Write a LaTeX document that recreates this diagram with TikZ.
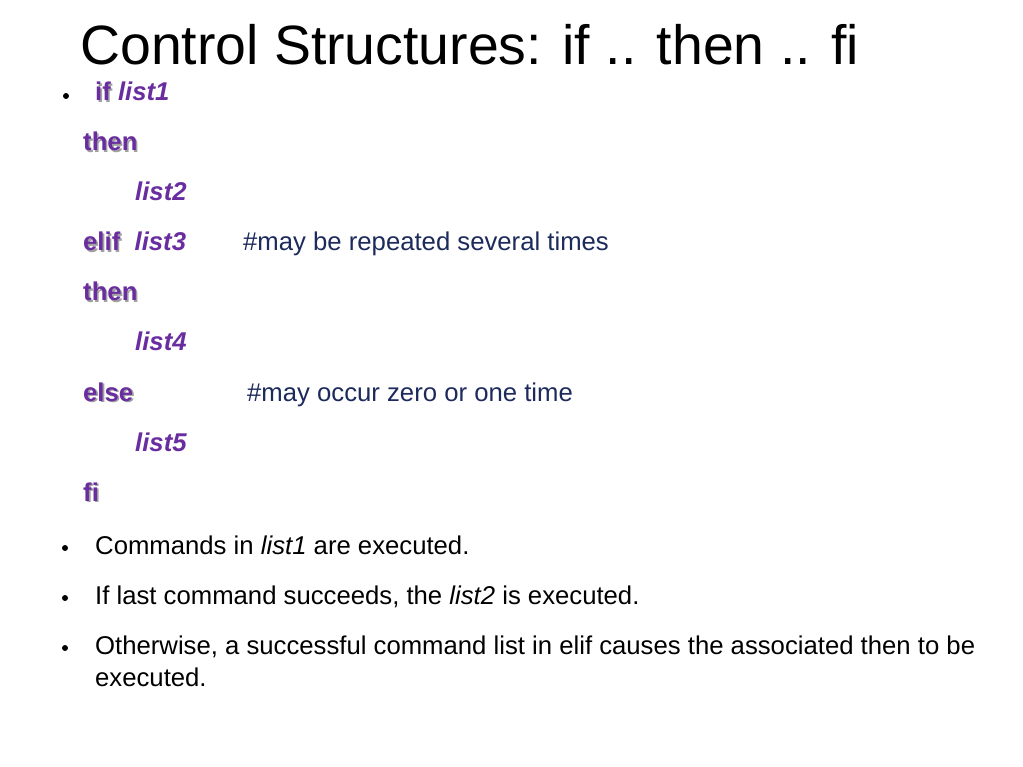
\documentclass[tikz,border=0pt]{standalone}
\usepackage{fontspec}
\setmainfont{Liberation Sans}
\definecolor{kwpurple}{HTML}{6A2D9F}
\definecolor{cmtnavy}{HTML}{1C2A5C}
\definecolor{shadowgray}{HTML}{A0A0A0}
\newcommand{\kwtext}[1]{\makebox[0pt][l]{\hspace{1.6pt}\raisebox{-1.6pt}{\textcolor{shadowgray}{\textbf{#1}}}}\textcolor{kwpurple}{\textbf{#1}}}
\newcommand{\lsttext}[1]{\textcolor{kwpurple}{\textbf{\textit{#1}}}}
\begin{document}
\begin{tikzpicture}[x=1pt,y=-1pt,
  txt/.style={anchor=base west,inner sep=0pt,font=\fontsize{25.7}{30}\selectfont},
  title/.style={anchor=base west,inner sep=0pt,font=\fontsize{55.4}{64}\selectfont},
  cmt/.style={txt,text=cmtnavy},
  dot/.style={circle,fill=black,inner sep=0pt,minimum size=6pt}]
\path[fill=white] (0,0) rectangle (1023,767);
\useasboundingbox (0,0) rectangle (1023,767);
\node[title] (t) at (80,65) {Control Structures: if .. then .. fi};
% code block
\node[dot] (b0) at (66,96) {};
\node[txt] (l1) at (95,101) {\kwtext{if} \lsttext{list1}};
\node[txt] (l2) at (83,151) {\kwtext{then}};
\node[txt] (l3) at (135,201) {\lsttext{list2}};
\node[txt] (l4) at (83,251) {\kwtext{elif}\ \ \lsttext{list3}};
\node[cmt] (c1) at (243,251) {\#may be repeated several times};
\node[txt] (l5) at (83,301) {\kwtext{then}};
\node[txt] (l6) at (135,351) {\lsttext{list4}};
\node[txt] (l7) at (83,401) {\kwtext{else}};
\node[cmt] (c2) at (247,401) {\#may occur zero or one time};
\node[txt] (l8) at (135,451) {\lsttext{list5}};
\node[txt] (l9) at (83,501) {\kwtext{fi}};
% explanation bullets
\node[dot] (b1) at (65,548) {};
\node[txt] (e1) at (95,554) {Commands in \textit{list1} are executed.};
\node[dot] (b2) at (65,598) {};
\node[txt] (e2) at (95,604) {If last command succeeds, the \textit{list2} is executed.};
\node[dot] (b3) at (65,648) {};
\node[txt] (e3) at (95,654) {Otherwise, a successful command list in elif causes the associated then to be};
\node[txt] (e4) at (95,686) {executed.};
\end{tikzpicture}
\end{document}
